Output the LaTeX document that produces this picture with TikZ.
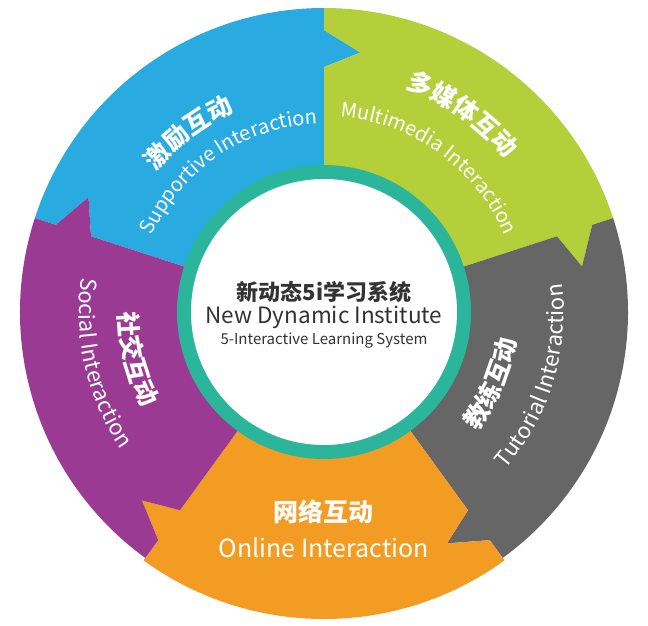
\documentclass[tikz,border=0pt]{standalone}
\usepackage{fontspec}
\newfontfamily\cjk{Noto Sans CJK SC}
\usetikzlibrary{decorations.text}
\definecolor{cblue}{HTML}{29ABE2}
\definecolor{cgreen}{HTML}{B5CF3A}
\definecolor{cgray}{HTML}{666666}
\definecolor{corange}{HTML}{F39C24}
\definecolor{cpurple}{HTML}{9B3A92}
\definecolor{cteal}{HTML}{2BB59A}
\definecolor{ctext}{HTML}{333333}
\newcommand\segpath[3]{\fill[#1] (#2:140pt) -- (#2:245pt) -- ({#2-8}:262pt) -- (#2:282pt) -- (#2:#3) arc[start angle=#2, end angle={#2-72}, radius=#3] -- ({#2-72}:282pt) -- ({#2-80}:262pt) -- ({#2-72}:245pt) -- ({#2-72}:140pt) arc[start angle={#2-72}, end angle=#2, radius=140pt] -- cycle;}
\newcommand\arctext[5]{\path[decorate, decoration={text along path, text={|#5|#1}, text align=center, text color=white}]
  ({#2+#4*50}:#3) arc[start angle={#2+#4*50}, end angle={#2-#4*50}, radius=#3];}
\begin{document}
\begin{tikzpicture}[x=1pt,y=1pt]
\useasboundingbox (-324,-313) rectangle (324,312);
\segpath{cblue}{162}{304pt}
\segpath{cgreen}{90}{304pt}
\segpath{cgray}{18}{304pt}
\segpath{corange}{-54}{307pt}
\segpath{cpurple}{-126}{304pt}
\fill[cteal] (0,0) circle[radius=147pt];
\fill[white] (0,0) circle[radius=133pt];
\node[font=\cjk\bfseries\fontsize{22}{26}\selectfont, text=ctext] (t1) at (0,20) {新动态5i学习系统};
\node[font=\cjk\fontsize{22.5}{26}\selectfont, text=ctext] (t2) at (0,-5) {New Dynamic Institute};
\node[font=\cjk\fontsize{15}{18}\selectfont, text=ctext] (t3) at (0,-29) {5-Interactive Learning System};
\arctext{激励互动}{127}{219pt}{1}{\cjk\bfseries\fontsize{25}{28}\selectfont}
\arctext{Supportive Interaction}{124}{188pt}{1}{\cjk\fontsize{20}{24}\selectfont}
\arctext{多媒体互动}{55}{238pt}{1}{\cjk\bfseries\fontsize{25}{28}\selectfont}
\arctext{Multimedia Interaction}{54}{196pt}{1}{\cjk\fontsize{20}{24}\selectfont}
\arctext{教练互动}{-23}{194pt}{-1}{\cjk\bfseries\fontsize{25}{28}\selectfont}
\arctext{Tutorial Interaction}{-17}{240pt}{-1}{\cjk\fontsize{22}{26}\selectfont}
\arctext{社交互动}{194}{205pt}{-1}{\cjk\bfseries\fontsize{25}{28}\selectfont}
\arctext{Social Interaction}{193}{245pt}{-1}{\cjk\fontsize{22}{26}\selectfont}
\node[font=\cjk\bfseries\fontsize{25}{28}\selectfont, text=white] (o1) at (0,-200) {网络互动};
\node[font=\cjk\fontsize{25}{28}\selectfont, text=white] (o2) at (0,-236) {Online Interaction};
\end{tikzpicture}
\end{document}
